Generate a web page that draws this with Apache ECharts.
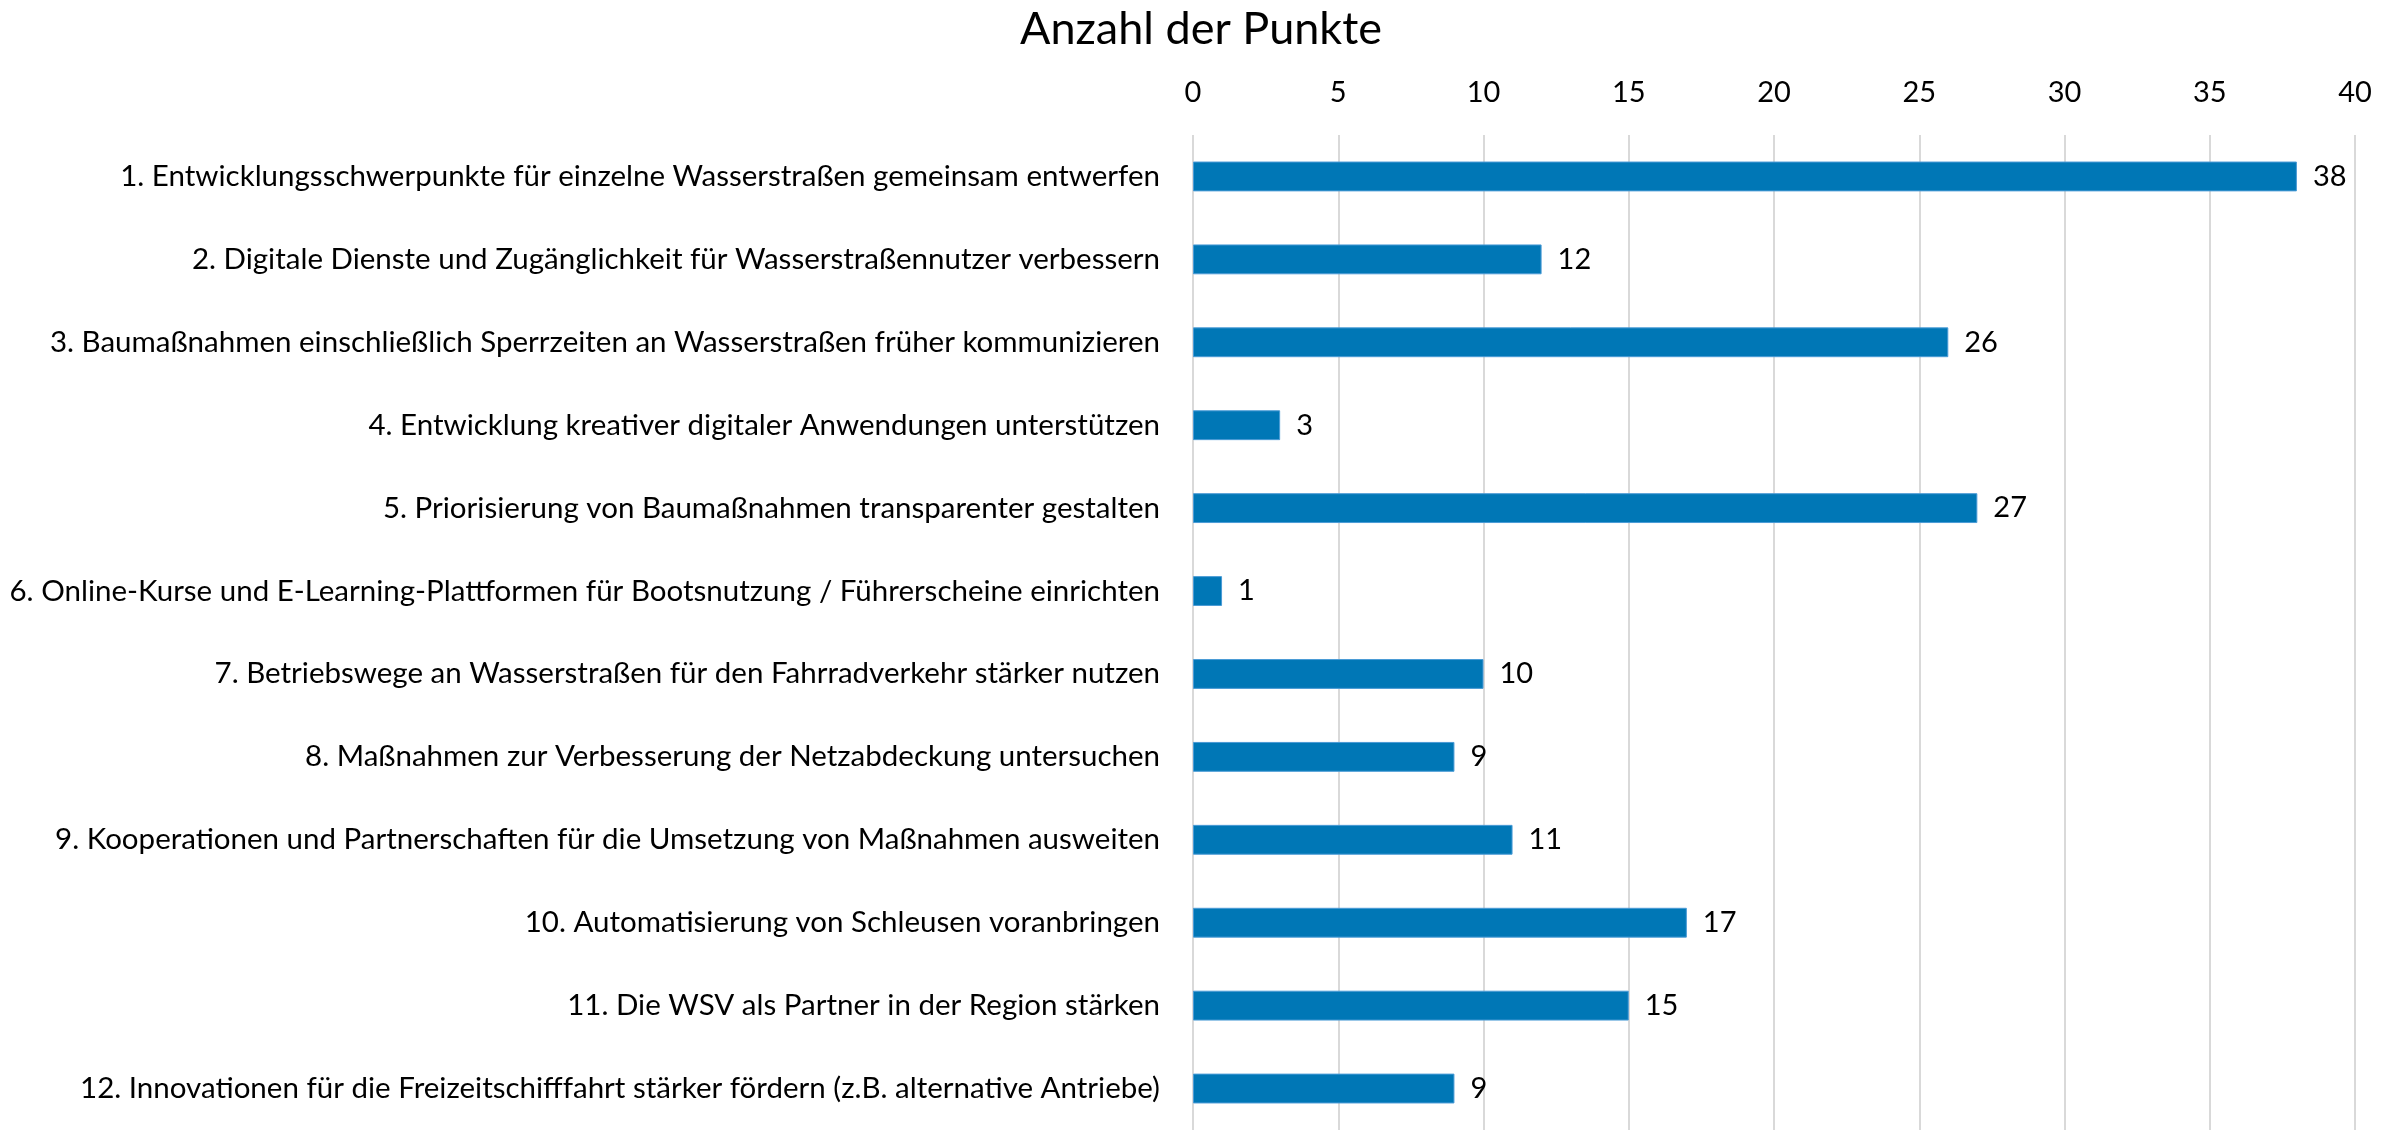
<!DOCTYPE html>
<html>
<head>
<meta charset="utf-8">
<title>Anzahl der Punkte</title>
<script src="https://cdn.jsdelivr.net/npm/echarts@6/dist/echarts.min.js"></script>
<style>
  html, body { margin: 0; padding: 0; background: #fff; }
  #main { width: 2402px; height: 1130px; }
</style>
</head>
<body>
<div id="main"></div>
<script>
// Maßnahmen (von oben nach unten)
const categories = [
  '1. Entwicklungsschwerpunkte für einzelne Wasserstraßen gemeinsam entwerfen',
  '2. Digitale Dienste und Zugänglichkeit für Wasserstraßennutzer verbessern',
  '3. Baumaßnahmen einschließlich Sperrzeiten an Wasserstraßen früher kommunizieren',
  '4. Entwicklung kreativer digitaler Anwendungen unterstützen',
  '5. Priorisierung von Baumaßnahmen transparenter gestalten',
  '6. Online-Kurse und E-Learning-Plattformen für Bootsnutzung / Führerscheine einrichten',
  '7. Betriebswege an Wasserstraßen für den Fahrradverkehr stärker nutzen',
  '8. Maßnahmen zur Verbesserung der Netzabdeckung untersuchen',
  '9. Kooperationen und Partnerschaften für die Umsetzung von Maßnahmen ausweiten',
  '10. Automatisierung von Schleusen voranbringen',
  '11. Die WSV als Partner in der Region stärken',
  '12. Innovationen für die Freizeitschifffahrt stärker fördern (z.B. alternative Antriebe)'
];
// Punkte je Maßnahme
const punkte = [38, 12, 26, 3, 27, 1, 10, 9, 11, 17, 15, 9];

const FONT = 'Lato';

const myChart = echarts.init(document.getElementById('main'));
myChart.setOption({
  animation: false,
  title: {
    text: 'Anzahl der Punkte',
    left: 'center',
    top: 2,
    textStyle: { fontFamily: FONT, fontWeight: 'normal', fontSize: 45, color: '#000' }
  },
  grid: { left: 1193, top: 135, width: 1162, height: 1002 },
  xAxis: {
    type: 'value',
    position: 'top',
    min: 0,
    max: 40,
    interval: 5,
    axisLine: { show: false },
    axisTick: { show: false },
    axisLabel: { fontFamily: FONT, fontSize: 29, color: '#000', margin: 28 },
    splitLine: { show: true, lineStyle: { color: '#d9d9d9', width: 2 } }
  },
  yAxis: {
    type: 'category',
    inverse: true,
    data: categories,
    axisLine: { show: false },
    axisTick: { show: false },
    axisLabel: { fontFamily: FONT, fontSize: 29.5, color: '#000', margin: 33 }
  },
  series: [
    {
      type: 'bar',
      data: punkte,
      barWidth: '36%',
      itemStyle: { color: '#0077b6', borderColor: '#4a9bd6', borderWidth: 1 },
      label: {
        show: true,
        position: 'right',
        distance: 16,
        fontFamily: FONT,
        fontSize: 29,
        color: '#000'
      }
    }
  ]
});
</script>
</body>
</html>
